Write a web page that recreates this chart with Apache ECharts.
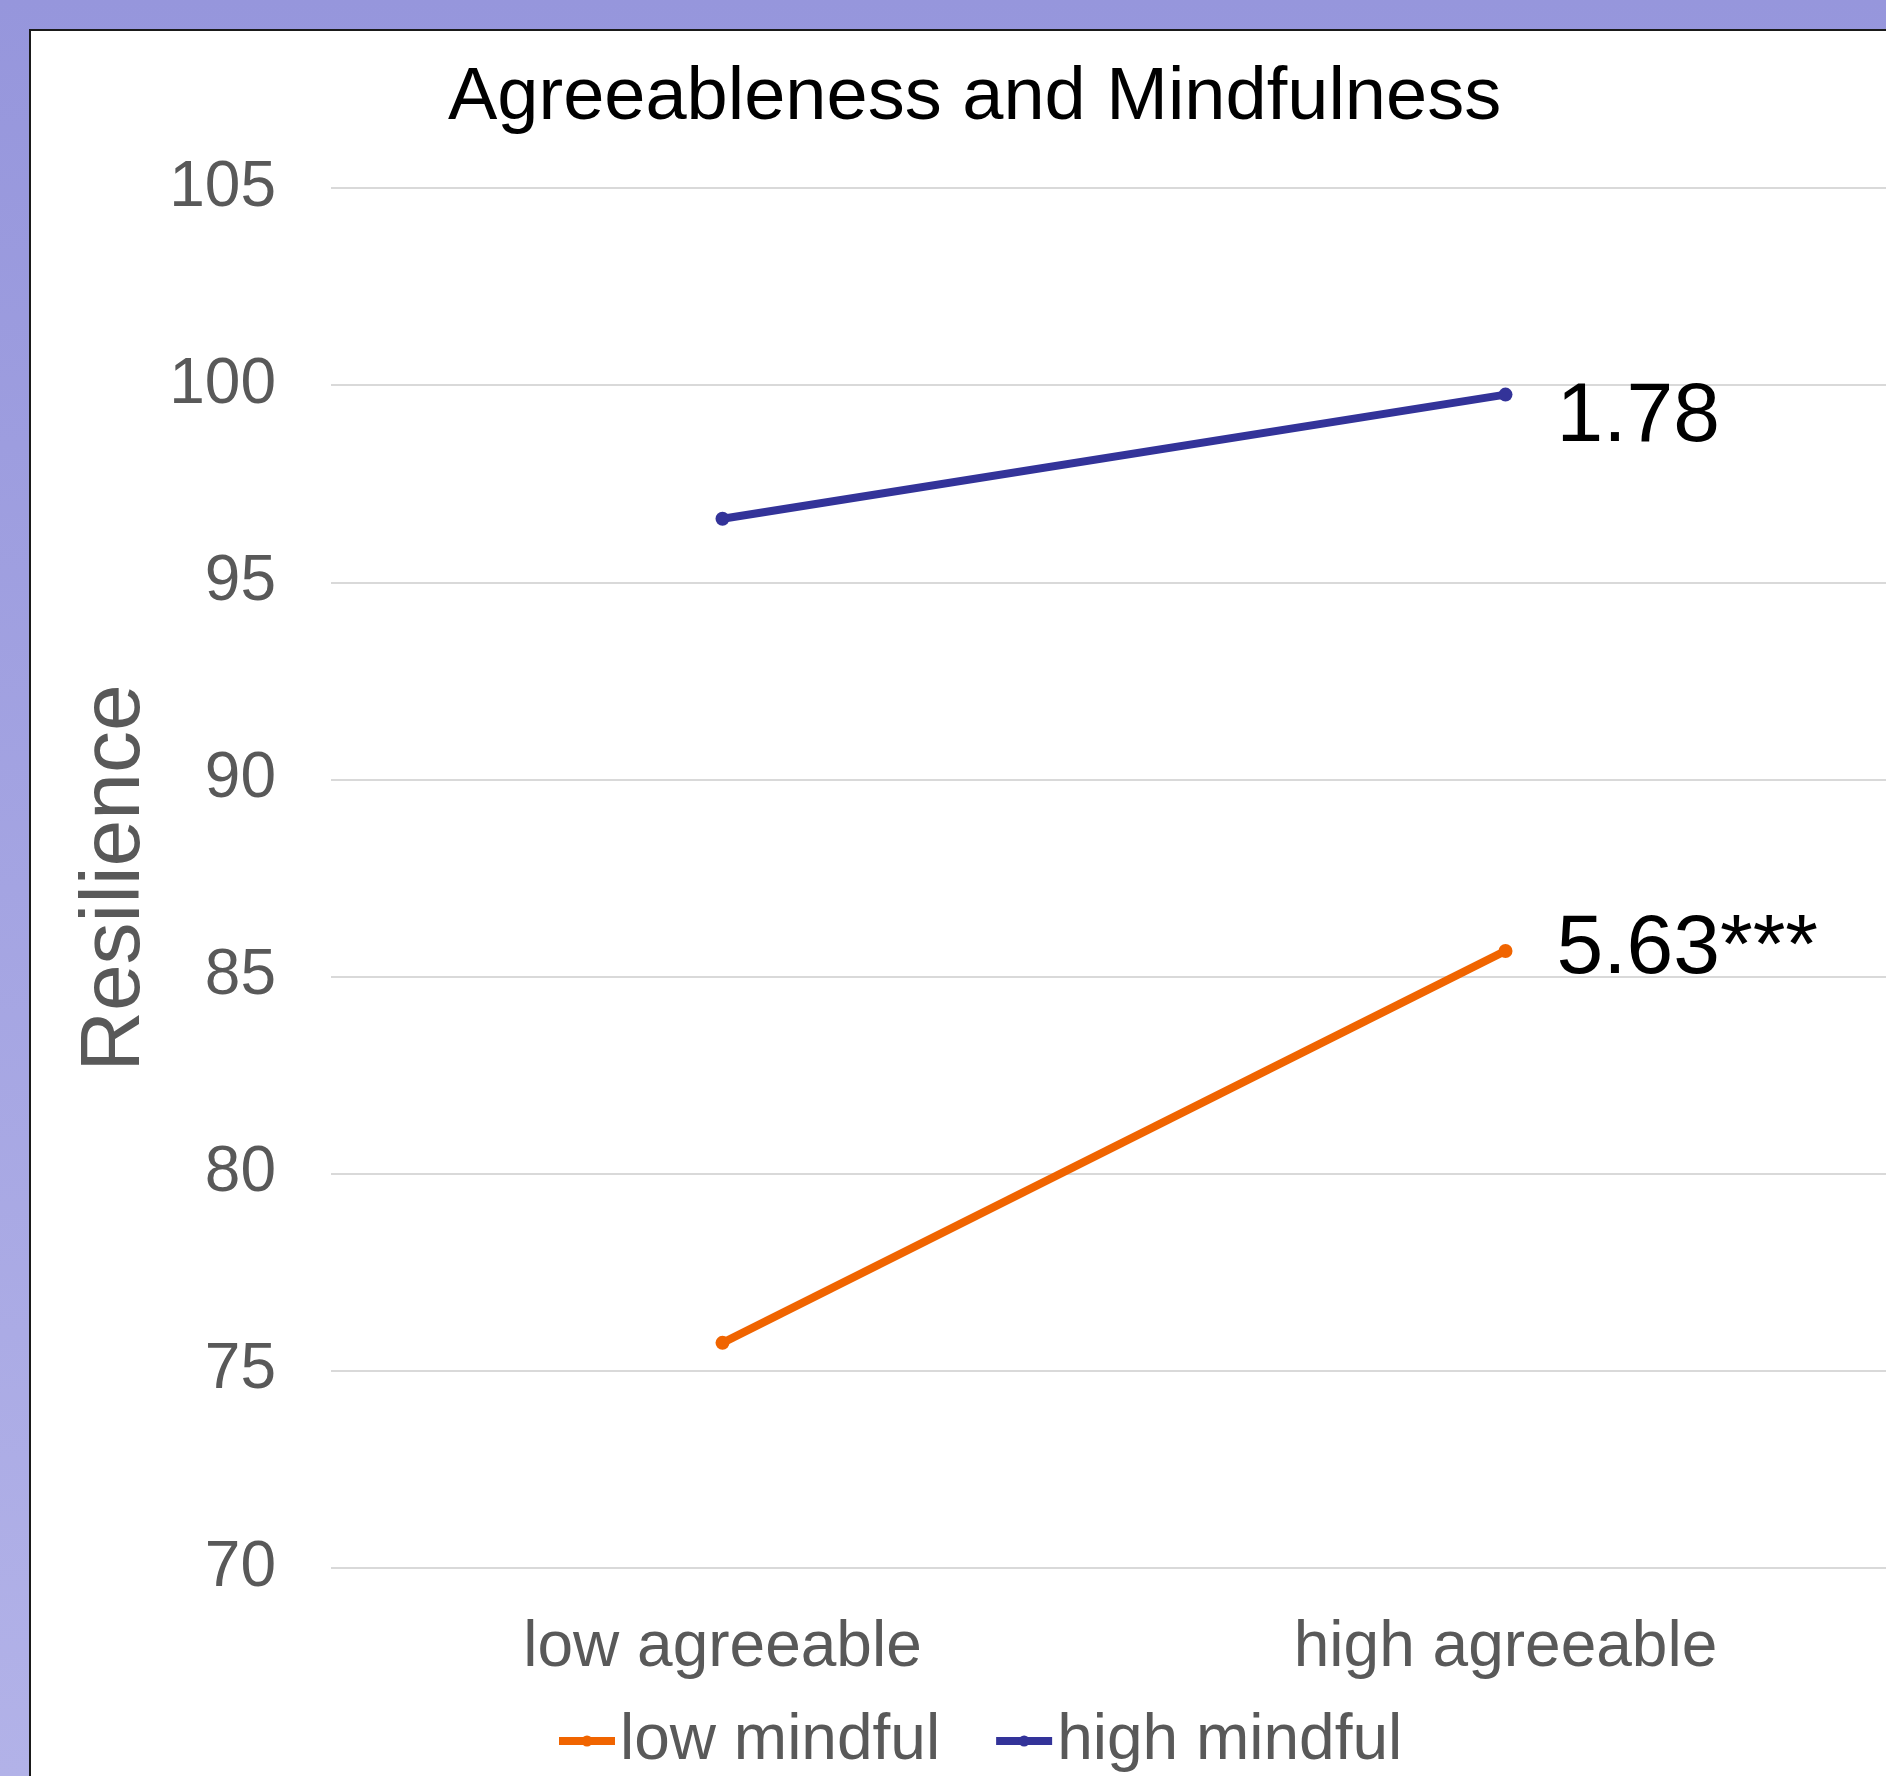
<!DOCTYPE html>
<html>
<head>
<meta charset="utf-8">
<title>Agreeableness and Mindfulness</title>
<script src="https://cdn.jsdelivr.net/npm/echarts@6/dist/echarts.min.js"></script>
<style>
  html, body { margin: 0; padding: 0; overflow: hidden; width: 1886px; height: 1776px; }
  #chart { width: 1900px; height: 1776px; }
</style>
</head>
<body>
<div id="chart"></div>
<script>
// Resilience by agreeableness level, split by mindfulness group
const categories = ['low agreeable', 'high agreeable'];
const lowMindful = [75.71, 85.65];
const highMindful = [96.61, 99.76];
// simple-slope annotations shown beside the end of each line
const lowMindfulSlope = '5.63***';
const highMindfulSlope = '1.78';
const yTicks = { min: 70, max: 105, step: 5 };

const FONT = '"Liberation Sans", Arial, sans-serif';
const GRAY = '#595959';

function endLabel(text, dy) {
  return {
    show: true,
    position: 'right',
    distance: 44,
    offset: [0, dy],
    formatter: text,
    fontFamily: FONT,
    fontSize: 84,
    color: '#000'
  };
}

const chart = echarts.init(document.getElementById('chart'), null, { renderer: 'canvas' });

chart.setOption({
  backgroundColor: {
    type: 'linear', x: 0, y: 0, x2: 0, y2: 1,
    colorStops: [
      { offset: 0, color: '#9696DC' },
      { offset: 1, color: '#B2B2E8' }
    ]
  },
  graphic: [{
    type: 'rect',
    z: -100,
    silent: true,
    shape: { x: 30, y: 30, width: 2000, height: 2000 },
    style: { fill: '#FFFFFF', stroke: '#1A1A1A', lineWidth: 2 }
  }],
  title: {
    text: 'Agreeableness and Mindfulness',
    left: 448,
    top: 62,
    padding: 0,
    textStyle: { fontFamily: FONT, fontSize: 74, fontWeight: 'normal', color: '#000' }
  },
  legend: {
    data: ['low mindful', 'high mindful'],
    left: 555,
    top: 1709,
    padding: 0,
    itemWidth: 56,
    itemHeight: 14,
    itemGap: 52,
    lineStyle: { width: 8 },
    textStyle: { fontFamily: FONT, fontSize: 64, color: GRAY }
  },
  grid: { left: 331, top: 188, bottom: 208, right: 3, containLabel: false },
  xAxis: {
    type: 'category',
    data: categories,
    boundaryGap: true,
    axisLine: { show: false },
    axisTick: { show: false },
    axisLabel: { fontFamily: FONT, fontSize: 64, color: GRAY, margin: 48 }
  },
  yAxis: {
    type: 'value',
    min: yTicks.min,
    max: yTicks.max,
    interval: yTicks.step,
    name: 'Resilience',
    nameLocation: 'middle',
    nameRotate: 90,
    nameGap: 171,
    nameTextStyle: { fontFamily: FONT, fontSize: 84, color: GRAY },
    axisLine: { show: false },
    axisTick: { show: false },
    axisLabel: { fontFamily: FONT, fontSize: 64, color: GRAY, margin: 55 },
    splitLine: { lineStyle: { color: '#D9D9D9', width: 2 } }
  },
  series: [
    {
      name: 'low mindful',
      type: 'line',
      data: lowMindful.map((v, i) => i === lowMindful.length - 1
        ? { value: v, label: endLabel(lowMindfulSlope, -1) }
        : v),
      symbol: 'circle',
      symbolSize: 14,
      lineStyle: { color: '#F06400', width: 8 },
      itemStyle: { color: '#F06400' },
      z: 3
    },
    {
      name: 'high mindful',
      type: 'line',
      data: highMindful.map((v, i) => i === highMindful.length - 1
        ? { value: v, label: endLabel(highMindfulSlope, 23) }
        : v),
      symbol: 'circle',
      symbolSize: 14,
      lineStyle: { color: '#333399', width: 8 },
      itemStyle: { color: '#333399' },
      z: 3
    }
  ],
  animation: false
});
</script>
</body>
</html>
